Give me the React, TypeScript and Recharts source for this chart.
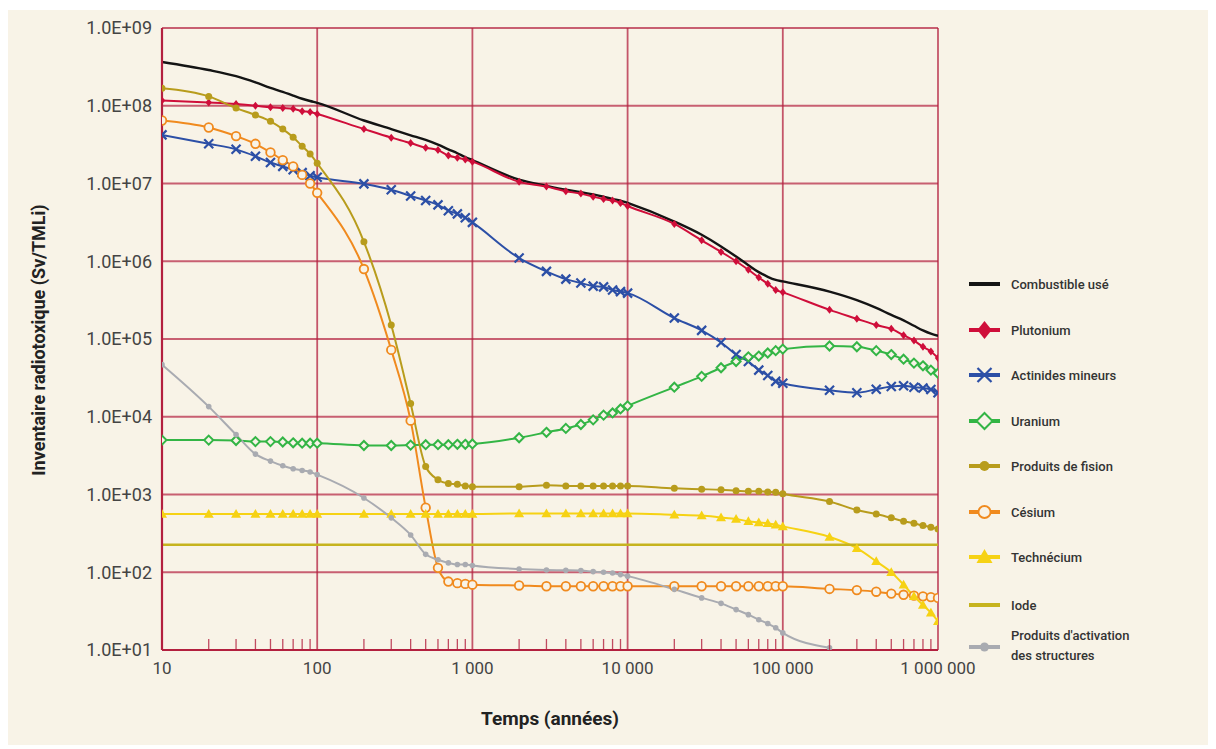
import React from 'react';
import { LineChart, Line, XAxis, YAxis, CartesianGrid, ReferenceLine } from 'recharts';

// ---------- DATA ----------
const TIMES = [
  10, 20, 30, 40, 50, 60, 70, 80, 90,
  100, 200, 300, 400, 500, 600, 700, 800, 900,
  1000, 2000, 3000, 4000, 5000, 6000, 7000, 8000, 9000,
  10000, 20000, 30000, 40000, 50000, 60000, 70000, 80000, 90000,
  100000, 200000, 300000, 400000, 500000, 600000, 700000, 800000, 900000,
  1000000,
];

const COMBUSTIBLE = [
  3.66e8, 2.88e8, 2.4e8, 2.0e8, 1.7e8, 1.51e8, 1.35e8, 1.23e8, 1.15e8,
  1.09e8, 6.46e7, 5.01e7, 4.17e7, 3.63e7, 3.16e7, 2.75e7, 2.45e7, 2.19e7,
  2.0e7, 1.12e7, 9.33e6, 8.32e6, 7.76e6, 7.24e6, 6.76e6, 6.31e6, 6.03e6,
  5.62e6, 3.24e6, 2.19e6, 1.55e6, 1.15e6, 8.91e5, 7.24e5, 6.31e5, 5.75e5,
  5.5e5, 4.07e5, 3.16e5, 2.51e5, 2.04e5, 1.74e5, 1.48e5, 1.29e5, 1.17e5,
  1.1e5,
];

const PLUTONIUM = [
  1.17e8, 1.1e8, 1.05e8, 1.0e8, 9.55e7, 9.33e7, 9.12e7, 8.51e7, 8.32e7,
  7.85e7, 5.01e7, 3.89e7, 3.31e7, 2.88e7, 2.69e7, 2.29e7, 2.14e7, 2.04e7,
  1.91e7, 1.05e7, 9.12e6, 7.94e6, 7.41e6, 6.76e6, 6.31e6, 6.03e6, 5.62e6,
  5.13e6, 3.02e6, 1.86e6, 1.32e6, 1.0e6, 7.76e5, 6.17e5, 5.13e5, 4.27e5,
  3.98e5, 2.37e5, 1.82e5, 1.51e5, 1.35e5, 1.12e5, 9.55e4, 7.94e4, 6.92e4,
  5.69e4,
];

const ACTINIDES = [
  4.22e7, 3.24e7, 2.75e7, 2.24e7, 1.86e7, 1.66e7, 1.5e7, 1.38e7, 1.26e7,
  1.2e7, 9.89e6, 8.32e6, 6.92e6, 6.03e6, 5.31e6, 4.47e6, 4.07e6, 3.63e6,
  3.16e6, 1.1e6, 7.41e5, 5.89e5, 5.25e5, 4.79e5, 4.68e5, 4.27e5, 4.07e5,
  3.89e5, 1.86e5, 1.29e5, 9.02e4, 6.31e4, 5.13e4, 3.98e4, 3.39e4, 2.85e4,
  2.69e4, 2.19e4, 2.04e4, 2.26e4, 2.45e4, 2.51e4, 2.4e4, 2.34e4, 2.24e4,
  2.04e4,
];

const URANIUM = [
  5.01e3, 5.01e3, 4.95e3, 4.79e3, 4.79e3, 4.73e3, 4.62e3, 4.57e3, 4.57e3,
  4.57e3, 4.27e3, 4.27e3, 4.32e3, 4.37e3, 4.37e3, 4.37e3, 4.42e3, 4.42e3,
  4.47e3, 5.37e3, 6.31e3, 7.08e3, 7.94e3, 9.12e3, 1.05e4, 1.12e4, 1.26e4,
  1.38e4, 2.4e4, 3.31e4, 4.27e4, 5.13e4, 5.89e4, 6.03e4, 6.61e4, 7.08e4,
  7.41e4, 8.13e4, 7.94e4, 7.08e4, 6.31e4, 5.5e4, 4.9e4, 4.52e4, 3.98e4,
  3.63e4,
];

const FISSION = [
  1.68e8, 1.32e8, 9.33e7, 7.59e7, 6.31e7, 5.01e7, 3.94e7, 3.02e7, 2.4e7,
  1.82e7, 1.78e6, 1.51e5, 1.48e4, 2.29e3, 1.55e3, 1.38e3, 1.35e3, 1.29e3,
  1.26e3, 1.26e3, 1.32e3, 1.29e3, 1.29e3, 1.29e3, 1.29e3, 1.29e3, 1.29e3,
  1.29e3, 1.2e3, 1.17e3, 1.15e3, 1.12e3, 1.1e3, 1.1e3, 1.08e3, 1.07e3,
  1.02e3, 813, 631, 562, 501, 452, 427, 398, 380,
  359,
];

const CESIUM = [
  6.46e7, 5.25e7, 4.07e7, 3.24e7, 2.51e7, 2.0e7, 1.66e7, 1.29e7, 1.0e7,
  7.59e6, 7.94e5, 7.24e4, 8.91e3, 676, 114, 75.9, 72.4, 70.8,
  69.2, 67.6, 66.1, 66.1, 66.1, 66.1, 66.1, 66.1, 66.1,
  66.1, 66.1, 66.1, 66.1, 66.1, 66.1, 66.1, 66.1, 66.1,
  66.1, 61.0, 58.9, 56.2, 53.1, 51.3, 50.1, 49.0, 47.9,
  46.8,
];

const TECHNECIUM = [
  562, 562, 562, 562, 562, 562, 562, 562, 562,
  562, 562, 562, 562, 562, 562, 562, 562, 562,
  562, 570, 570, 570, 570, 570, 570, 570, 570,
  570, 550, 537, 507, 484, 452, 437, 427, 407,
  389, 285, 204, 138, 100, 69.2, 49.0, 38.0, 30.2,
  23.4,
];

const IODE = TIMES.map(() => 226);

const ACTIVATION = [
  4.68e4, 1.35e4, 5.89e3, 3.31e3, 2.69e3, 2.34e3, 2.14e3, 2.04e3, 1.95e3,
  1.8e3, 902, 501, 302, 170, 145, 132, 126, 126,
  122, 110, 107, 106, 105, 102, 100, 97.7, 93.3,
  89.1, 60.3, 46.8, 39.8, 33.1, 28.5, 24.5, 21.9, 19.3,
  16.6, 10.7, null, null, null, null, null, null, null,
  null,
];

const Y_TICKS = [1e1, 1e2, 1e3, 1e4, 1e5, 1e6, 1e7, 1e8, 1e9];
const Y_LABELS = ['1.0E+01', '1.0E+02', '1.0E+03', '1.0E+04', '1.0E+05', '1.0E+06', '1.0E+07', '1.0E+08', '1.0E+09'];
const X_MAJOR = [10, 100, 1000, 10000, 100000, 1000000];
const X_LABELS = ['10', '100', '1 000', '10 000', '100 000', '1 000 000'];
const X_MINOR = TIMES.filter((t) => !X_MAJOR.includes(t));
const X_ALL = [...TIMES];

const LEGEND_NAMES = [
  'Combustible usé',
  'Plutonium',
  'Actinides mineurs',
  'Uranium',
  'Produits de fision',
  'Césium',
  'Technécium',
  'Iode',
  "Produits d'activation|des structures",
];

const X_TITLE = 'Temps (années)';
const Y_TITLE = 'Inventaire radiotoxique (Sv/TMLi)';

const data = TIMES.map((t, i) => ({
  t,
  comb: COMBUSTIBLE[i],
  pu: PLUTONIUM[i],
  am: ACTINIDES[i],
  u: URANIUM[i],
  pf: FISSION[i],
  cs: CESIUM[i],
  tc: TECHNECIUM[i],
  io: IODE[i],
  act: ACTIVATION[i],
}));

// ---------- STYLE ----------
const W = 1203;
const H = 735;
const BG = '#f8f3e7';
const GRID = '#b3203f';
const FONT = 'Roboto, "Noto Sans", sans-serif';

type Shape = (cx: number, cy: number, s: number, color: string) => React.ReactElement;

const diamondFilled: Shape = (cx, cy, s, color) => (
  <path d={`M${cx},${cy - s}L${cx + s * 0.8},${cy}L${cx},${cy + s}L${cx - s * 0.8},${cy}Z`} fill={color} />
);
const xMark: Shape = (cx, cy, s, color) => (
  <path
    d={`M${cx - s},${cy - s}L${cx + s},${cy + s}M${cx + s},${cy - s}L${cx - s},${cy + s}`}
    stroke={color}
    strokeWidth={2.2}
    fill="none"
  />
);
const diamondOpen: Shape = (cx, cy, s, color) => (
  <path d={`M${cx},${cy - s}L${cx + s},${cy}L${cx},${cy + s}L${cx - s},${cy}Z`} fill={BG} stroke={color} strokeWidth={2} />
);
const circleFilled: Shape = (cx, cy, s, color) => <circle cx={cx} cy={cy} r={s} fill={color} />;
const circleOpen: Shape = (cx, cy, s, color) => (
  <circle cx={cx} cy={cy} r={s} fill={BG} stroke={color} strokeWidth={1.8} />
);
const triangle: Shape = (cx, cy, s, color) => (
  <path d={`M${cx},${cy - s}L${cx + s},${cy + s * 0.75}L${cx - s},${cy + s * 0.75}Z`} fill={color} />
);

type Series = { key: string; color: string; width: number; shape: Shape | null; size: number; legendSize: number };

const SERIES: Series[] = [
  { key: 'comb', color: '#141414', width: 2.4, shape: null, size: 0, legendSize: 0 },
  { key: 'pu', color: '#cf0e3a', width: 2, shape: diamondFilled, size: 4, legendSize: 9 },
  { key: 'am', color: '#2c4fa6', width: 2, shape: xMark, size: 4.5, legendSize: 7 },
  { key: 'u', color: '#33b545', width: 2, shape: diamondOpen, size: 4.5, legendSize: 8 },
  { key: 'pf', color: '#b89c1c', width: 2, shape: circleFilled, size: 3.5, legendSize: 5 },
  { key: 'cs', color: '#f08a1e', width: 2, shape: circleOpen, size: 4.3, legendSize: 6 },
  { key: 'tc', color: '#f6d214', width: 2, shape: triangle, size: 5, legendSize: 8 },
  { key: 'io', color: '#c6b31e', width: 2.4, shape: null, size: 0, legendSize: 0 },
  { key: 'act', color: '#a9abb1', width: 2, shape: circleFilled, size: 2.8, legendSize: 4.5 },
];

const makeDot = (s: Series) => (p: any) => {
  const { cx, cy, index } = p;
  if (cx == null || cy == null || Number.isNaN(cx) || Number.isNaN(cy) || !s.shape) {
    return <g key={`d-${s.key}-${index}`} />;
  }
  return <g key={`d-${s.key}-${index}`}>{s.shape(cx, cy, s.size, s.color)}</g>;
};

const X_TICK_MARGIN = 12;

const XTick = (props: any) => {
  const { x, y, payload } = props;
  const v = payload?.value;
  const idx = X_MAJOR.indexOf(v);
  const axisY = y - X_TICK_MARGIN;
  if (idx < 0) {
    return <line x1={x} x2={x} y1={axisY} y2={axisY - 11} stroke={GRID} strokeOpacity={0.8} strokeWidth={1.3} />;
  }
  return (
    <text x={x} y={y} dy="0.71em" textAnchor="middle" fontSize={17} fill="#444" fontFamily={FONT}>
      {X_LABELS[idx]}
    </text>
  );
};

const LEGEND_Y = [274, 320, 365, 411, 456, 502, 547, 595, 637];

export default function App() {
  return (
    <div
      style={{
        position: 'relative',
        width: W,
        height: H,
        marginLeft: -1,
        marginTop: 2,
        background: BG,
        fontFamily: FONT,
      }}
    >
      <LineChart width={W} height={H} data={data} margin={{ top: 18, right: 272, bottom: 0, left: 0 }}>
        <CartesianGrid horizontal vertical={false} stroke={GRID} strokeWidth={1.8} strokeOpacity={0.7} />
        <XAxis
          dataKey="t"
          type="number"
          scale="log"
          domain={[10, 1000000]}
          ticks={X_ALL}
          interval={0}
          tick={(p: any) => <XTick {...p} />}
          tickLine={false}
          tickSize={0}
          tickMargin={X_TICK_MARGIN}
          axisLine={{ stroke: GRID, strokeWidth: 2 }}
          height={95}
          allowDataOverflow
        />
        <YAxis
          type="number"
          scale="log"
          domain={[10, 1e9]}
          ticks={Y_TICKS}
          interval={0}
          tickFormatter={(v: number) => Y_LABELS[Y_TICKS.indexOf(v)] ?? ''}
          tick={{ fontSize: 18, fill: '#444', fontFamily: FONT }}
          tickLine={false}
          tickSize={0}
          tickMargin={10}
          axisLine={{ stroke: GRID, strokeWidth: 2.2 }}
          width={155}
          allowDataOverflow
        />
        {X_MAJOR.slice(1).map((v) => (
          <ReferenceLine key={`vx-${v}`} x={v} stroke={GRID} strokeWidth={1.8} strokeOpacity={0.75} />
        ))}
        {SERIES.map((s) => (
          <Line
            key={s.key}
            dataKey={s.key}
            type="monotone"
            stroke={s.color}
            strokeWidth={s.width}
            dot={s.shape ? makeDot(s) : false}
            activeDot={false}
            isAnimationActive={false}
            connectNulls={false}
          />
        ))}
      </LineChart>
      <svg
        width={W}
        height={H}
        style={{ position: 'absolute', left: 0, top: 0, pointerEvents: 'none' }}
        fontFamily={FONT}
      >
        <text x={543} y={715} textAnchor="middle" fontSize={19} fontWeight={700} fill="#222">
          {X_TITLE}
        </text>
        <text
          transform="translate(31, 330) rotate(-90)"
          textAnchor="middle"
          dominantBaseline="central"
          fontSize={18}
          fontWeight={700}
          fill="#222"
        >
          {Y_TITLE}
        </text>
        {SERIES.map((s, i) => {
          const y = LEGEND_Y[i];
          const lines = LEGEND_NAMES[i].split('|');
          return (
            <g key={`lg-${s.key}`}>
              <line x1={962} x2={993} y1={y} y2={y} stroke={s.color} strokeWidth={4} />
              {s.shape ? s.shape(977.5, y, s.legendSize, s.color) : null}
              {lines.map((ln, j) => (
                <text
                  key={j}
                  x={1004}
                  y={y + (j - (lines.length - 1) / 2) * 20 - (lines.length > 1 ? 2 : 0)}
                  dominantBaseline="central"
                  fontSize={13}
                  fontWeight={500}
                  fill="#333"
                >
                  {ln}
                </text>
              ))}
            </g>
          );
        })}
      </svg>
    </div>
  );
}
